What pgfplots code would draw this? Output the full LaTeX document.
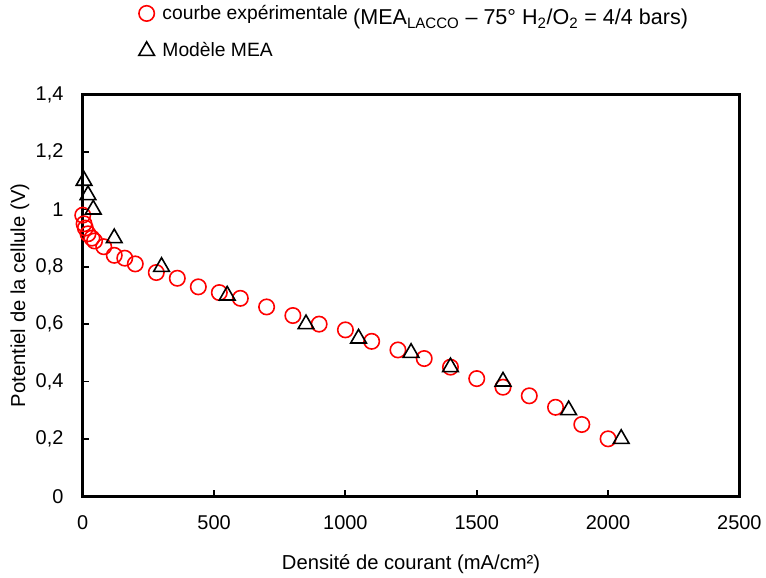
\documentclass[border=0pt]{standalone}
\usepackage{pgfplots}
\pgfplotsset{compat=1.18}
\usepackage{fontspec}
\setmainfont{Liberation Sans}
\begin{document}
\begin{tikzpicture}[font=\fontsize{14.5}{17}\selectfont]
\begin{axis}[
  scale only axis,
  width=494pt, height=302pt,
  xmin=0, xmax=2500, ymin=0, ymax=1.4,
  xtick={0,500,...,2500},
  ytick={0,0.2,0.4,0.6,0.8,1,1.2,1.4},
  xtick pos=left, ytick pos=left,
  tick align=inside,
  major tick length=5pt,
  every tick/.style={black, line width=1.4pt},
  axis line style={line width=2pt},
  /pgf/number format/.cd, use comma, assume math mode=true, 1000 sep={},
  /pgfplots/.cd,
  scaled ticks=false,
  tick label style={font=\fontsize{15}{18}\selectfont},
  yticklabel style={/pgf/number format/fixed, /pgf/number format/precision=1, xshift=-11pt},
  xticklabel style={yshift=-11pt},
  xlabel={Densité de courant (mA/cm²)},
  ylabel={Potentiel de la cellule (V)},
  label style={font=\fontsize{15.2}{18}\selectfont},
  xlabel style={at={(axis description cs:0.5,-0.169)}, anchor=center},
  ylabel style={at={(axis description cs:-0.0956,0.5)}, anchor=center, rotate=0},
  clip=false,
  legend style={draw=none, fill=none, at={(axis description cs:0.085,1.23)}, anchor=north west,
    row sep=12pt, column sep=4pt, font=\fontsize{14.5}{17}\selectfont, inner sep=0pt},
  legend cell align=left,
]
\addplot[only marks, mark=o, mark size=5.8pt, red, line width=1.2pt] coordinates {
(0,0.98) (5,0.95) (10,0.935) (20,0.915) (35,0.90) (45,0.89) (80,0.87) (120,0.84) (160,0.83) (200,0.81)
(280,0.78) (360,0.76) (440,0.73) (520,0.71) (600,0.69) (700,0.66) (800,0.63) (900,0.60)
(1000,0.58) (1100,0.54) (1200,0.51) (1300,0.48) (1400,0.45) (1500,0.41) (1600,0.38)
(1700,0.35) (1800,0.31) (1900,0.25) (2000,0.20)
};
\addlegendentry{courbe expérimentale \raisebox{-4pt}{\fontsize{16.2}{18}\selectfont (MEA\textsubscript{LACCO} – 75° H\textsubscript{2}/O\textsubscript{2} = 4/4 bars)}}
\addplot[only marks, mark=triangle, mark size=6.8pt, black, line width=1.2pt] coordinates {
(5,1.1) (20,1.05) (40,1.0) (120,0.9) (300,0.8) (550,0.7) (850,0.6) (1050,0.55)
(1250,0.5) (1400,0.45) (1600,0.4) (1850,0.3) (2050,0.2)
};
\addlegendentry{Modèle MEA}
\path (axis description cs:-0.126,-0.1985) rectangle (axis description cs:1.036,1.236);
\end{axis}
\end{tikzpicture}
\end{document}
